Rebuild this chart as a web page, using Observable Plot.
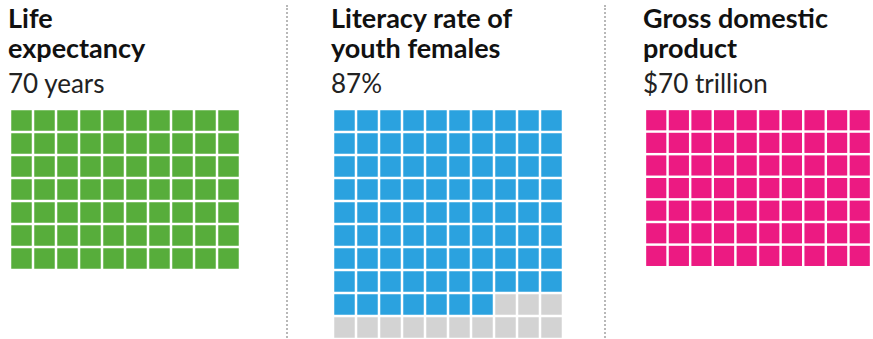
<!DOCTYPE html>
<html>
<head>
<meta charset="utf-8">
<script src="https://cdn.jsdelivr.net/npm/d3@7"></script>
<script src="https://cdn.jsdelivr.net/npm/@observablehq/plot@0.6"></script>
<style>
  html, body { margin: 0; padding: 0; background: #fff; width: 873px; height: 339px; overflow: hidden; }
  #root { position: relative; width: 873px; height: 339px; overflow: hidden; }
  .panel { position: absolute; top: 0; }
  .title { position: absolute; top: 3px; left: 0; width: 280px; font-family: Lato, sans-serif; font-weight: 700; font-size: 27px; line-height: 30px; color: #111; }
  .sub { position: absolute; top: 68px; left: 0; width: 280px; font-family: Lato, sans-serif; font-weight: 400; font-size: 26px; line-height: 30px; color: #222; }
  .chart { position: absolute; top: 106px; left: 0; }
  .sep { position: absolute; top: 5px; width: 0; height: 340px; border-left: 2px dotted #b8b8b8; }
</style>
</head>
<body>
<div id="root"></div>
<script>
const titles = ["Life\nexpectancy", "Literacy rate of\nyouth females", "Gross domestic\nproduct"];
const subtitles = ["70 years", "87%", "$70 trillion"];
const filled = [70, 87, 70];
const totals = [70, 100, 70];
const colors = ["#57ad3b", "#2ba2df", "#ec1a82"];
const emptyColor = "#d3d3d3";
const panelLeft = [7, 330, 642];
const sepLeft = [286, 604];

const root = document.getElementById("root");
sepLeft.forEach(x => {
  const s = document.createElement("div");
  s.className = "sep";
  s.style.left = x + "px";
  root.appendChild(s);
});

titles.forEach((t, i) => {
  const p = document.createElement("div");
  p.className = "panel";
  p.style.left = (panelLeft[i] + 1) + "px";
  const h = document.createElement("div");
  h.className = "title";
  h.innerHTML = t.split("\n").join("<br>");
  p.appendChild(h);
  const s = document.createElement("div");
  s.className = "sub";
  s.textContent = subtitles[i];
  p.appendChild(s);
  root.appendChild(p);

  const cells = d3.range(totals[i]).map(k => ({
    col: k % 10,
    row: Math.floor(k / 10),
    on: k < filled[i]
  }));
  const chart = Plot.plot({
    width: 235,
    height: 235,
    margin: 0,
    x: {domain: d3.range(10), axis: null, padding: 0},
    y: {domain: d3.range(10), axis: null, padding: 0},
    marks: [
      Plot.cell(cells, {x: "col", y: "row", fill: d => d.on ? colors[i] : emptyColor, inset: 1.25})
    ]
  });
  const c = document.createElement("div");
  c.className = "chart";
  c.style.left = panelLeft[i] + "px";
  c.appendChild(chart);
  root.appendChild(c);
});
</script>
</body>
</html>
